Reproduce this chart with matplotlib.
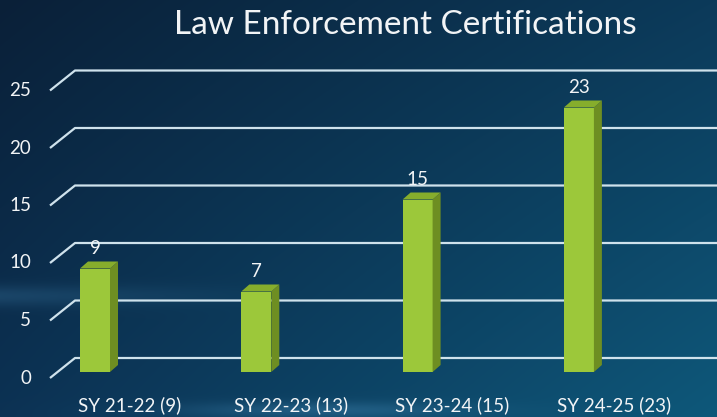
import numpy as np
import matplotlib.pyplot as plt
from matplotlib.patches import Polygon

# --- data ---
categories = ["SY 21-22 (9)", "SY 22-23 (13)", "SY 23-24 (15)", "SY 24-25 (23)"]
values = [9, 7, 15, 23]
yticks = [0, 5, 10, 15, 20, 25]
title = "Law Enforcement Certifications"

W, H = 717, 417
FONT = "Lato"
TXT = "#f2f4f6"

# pixel scale of the "front plane" (value 0 at px 372, category 0 at px 95)
PX_CAT = 161.3
PX_VAL = 11.5
X0_PX, Y0_PX = 95, 372


def dx(px):
    return (px - X0_PX) / PX_CAT


def dy(py):
    return (Y0_PX - py) / PX_VAL


fig = plt.figure(figsize=(W / 100, H / 100), dpi=100)

# --- background gradient ---
bg = fig.add_axes([0, 0, 1, 1])
bg.axis("off")
yy, xx = np.mgrid[0:1:H * 1j, 0:1:W * 1j]
c_tl = np.array([10, 32, 56]) / 255
c_tr = np.array([12, 58, 90]) / 255
c_bl = np.array([12, 50, 84]) / 255
c_br = np.array([14, 88, 122]) / 255
img = (c_tl * ((1 - xx) * (1 - yy))[..., None] + c_tr * (xx * (1 - yy))[..., None]
       + c_bl * ((1 - xx) * yy)[..., None] + c_br * (xx * yy)[..., None])
light = np.array([70, 140, 185]) / 255
streak = 0.25 * np.exp(-((yy - 0.71) / 0.025) ** 2) * np.clip(1 - xx * 2.5, 0, 1)
streak += 0.35 * np.exp(-((yy - 0.985) / 0.02) ** 2) * np.exp(-((xx - 0.45) / 0.2) ** 2)
img = img * (1 - streak[..., None]) + light * streak[..., None]
bg.imshow(np.clip(img, 0, 1), aspect="auto", extent=[0, 1, 0, 1])

# --- chart axes ---
ax = fig.add_axes([0, 0, 1, 1])
ax.patch.set_alpha(0)
ax.axis("off")
ax.set_xlim(dx(0), dx(W))
ax.set_ylim(dy(H), dy(0))

# gridlines (back wall + slanted floor edge)
front_off = dy(378) - dy(372)
back_off = dy(358) - dy(372)
for g in yticks:
    ax.plot([dx(50), dx(75), dx(W + 5)], [g + front_off, g + back_off, g + back_off],
            color="#cfe2ec", lw=1.6, zorder=1, solid_capstyle="butt")
    ax.text(dx(31), g + front_off, str(g), ha="right", va="center",
            color=TXT, fontsize=13.5, family=FONT)

# 3d bars
x = np.arange(len(values))
bw = 30 / PX_CAT
ddx = 8 / PX_CAT
ddy = 7 / PX_VAL
ax.bar(x, values, width=bw, color="#9cc83a", zorder=3, linewidth=0)
for xi, v in zip(x, values):
    r = xi + bw / 2
    l = xi - bw / 2
    ax.add_patch(Polygon([(r, 0), (r + ddx, ddy), (r + ddx, v + ddy), (r, v)],
                         closed=True, color="#6e8e22", zorder=3, lw=0))
    ax.add_patch(Polygon([(l, v), (l + ddx, v + ddy), (r + ddx, v + ddy), (r, v)],
                         closed=True, color="#86ad2c", zorder=3, lw=0))
    ax.text(xi, v + 20 / PX_VAL, str(v), ha="center", va="center",
            color=TXT, fontsize=13.5, family=FONT, zorder=4)

# category labels
for xi, lab in zip(x, categories):
    ax.text(xi + 35 / PX_CAT, dy(405), lab, ha="center", va="center",
            color=TXT, fontsize=13.5, family=FONT)

fig.text(405 / W, 1 - 25 / H, title, ha="center", va="center",
         color=TXT, fontsize=24, family=FONT)

fig.savefig("out.png", dpi=100)
